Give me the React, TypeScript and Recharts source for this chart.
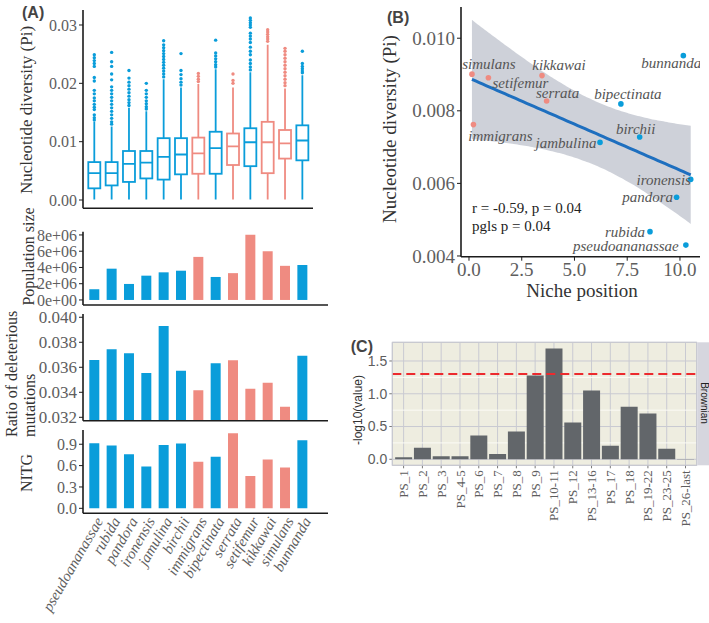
import React from "react";
import {
  BarChart,
  ComposedChart,
  Bar,
  Cell,
  XAxis,
  YAxis,
  Area,
  Line,
  Scatter,
  CartesianGrid,
  ReferenceLine,
} from "recharts";

// ---------- panel A data ----------
const species = [
  "pseudoananassae", "rubida", "pandora", "ironensis", "jamulina", "birchii", "immigrans",
  "bipectinata", "serrata", "setifemur", "kikkawai", "simulans", "bunnanda",
];
const redSpecies = ["immigrans", "serrata", "setifemur", "kikkawai", "simulans"];

const popSize = [1.32e6, 3.85e6, 1.97e6, 2.99e6, 3.4e6, 3.6e6, 5.3e6, 2.83e6, 3.3e6, 8.04e6, 6.0e6, 4.2e6, 4.3e6];
const deleterious = [0.03659, 0.03744, 0.03712, 0.03555, 0.03931, 0.03573, 0.03416, 0.03632, 0.03656, 0.03429, 0.03477, 0.03285, 0.03693];
const nitg = [0.914, 0.881, 0.758, 0.587, 0.891, 0.909, 0.654, 0.725, 1.056, 0.455, 0.687, 0.573, 0.957];

// boxplot (Pi per window), colour group as drawn in the figure
const boxGroup = ["b", "b", "b", "b", "b", "b", "r", "b", "r", "b", "r", "r", "b"];
const boxLow = [0.0001, 0.0001, 0.0001, 0.0001, 0.0001, 0.0001, 0.0001, 0.0001, 0.0001, 0.0001, 0.0001, 0.0001, 0.0001];
const boxQ1 = [0.002, 0.0025, 0.0031, 0.0037, 0.0035, 0.0044, 0.0045, 0.0045, 0.006, 0.0058, 0.0046, 0.0071, 0.0068];
const boxMedian = [0.0046, 0.0046, 0.0062, 0.0064, 0.0074, 0.0078, 0.008, 0.0089, 0.0092, 0.0099, 0.0099, 0.0097, 0.0102];
const boxQ3 = [0.0065, 0.0065, 0.0084, 0.0084, 0.0106, 0.0106, 0.0107, 0.0117, 0.0114, 0.0123, 0.0134, 0.012, 0.0128];
const boxHigh = [0.0134, 0.0126, 0.0158, 0.0152, 0.0207, 0.0193, 0.0199, 0.0224, 0.0193, 0.0219, 0.0266, 0.0191, 0.0214];
const boxOutliers = [
  [0.0249, 0.0244, 0.0239, 0.0234, 0.0229, 0.021, 0.0204, 0.0188, 0.0182, 0.0175, 0.017, 0.0164, 0.0159, 0.0155, 0.0146, 0.0141, 0.0137],
  [0.0253, 0.0237, 0.0229, 0.0216, 0.0206, 0.0194, 0.0188, 0.0182, 0.0176, 0.017, 0.0164, 0.0158, 0.0152, 0.0146, 0.014, 0.0134, 0.013],
  [0.0222, 0.0209, 0.0202, 0.0196, 0.019, 0.0184, 0.0178, 0.0172, 0.0167, 0.0162],
  [0.02, 0.0188, 0.0182, 0.0176, 0.017, 0.0165, 0.016, 0.0156],
  [0.0273, 0.0266, 0.0261, 0.0256, 0.0251, 0.0246, 0.0241, 0.0236, 0.0231, 0.0226, 0.0221, 0.0216, 0.0211],
  [0.0251, 0.0222, 0.0215, 0.0208, 0.0202, 0.0197],
  [0.0217, 0.0212, 0.0207, 0.0203],
  [0.0274, 0.0252, 0.0247, 0.0242, 0.0237, 0.0232, 0.0228],
  [0.0216, 0.0205, 0.02],
  [0.0312, 0.0308, 0.0304, 0.03, 0.0296, 0.0286, 0.0281, 0.0276, 0.027, 0.0262, 0.0255, 0.0249, 0.024, 0.0234, 0.0228, 0.0223],
  [0.0292, 0.0288, 0.0284, 0.028, 0.0276, 0.0272],
  [0.026, 0.0255, 0.0249, 0.0243, 0.0237, 0.0231, 0.0225, 0.0219, 0.0213, 0.0207, 0.0201, 0.0196],
  [0.0255, 0.0234, 0.0229, 0.0225, 0.0221, 0.0218],
];

// ---------- panel B data ----------
const nicheSpecies = [
  "simulans", "setifemur", "kikkawai", "serrata", "immigrans", "jambulina", "bipectinata",
  "birchii", "bunnanda", "ironensis", "pandora", "rubida", "pseudoananassae",
];
const nichePos = [0.14, 0.92, 3.46, 3.68, 0.21, 6.21, 7.2, 8.09, 10.16, 10.51, 9.84, 8.58, 10.28];
const nichePi = [0.00901, 0.00891, 0.00897, 0.00827, 0.00762, 0.00713, 0.00819, 0.00728, 0.00952, 0.00611, 0.00562, 0.00467, 0.0043];
// label placement relative to the dot (px)
const nicheLabelOffset = [
  [17, -10], [32, 5], [17, -11], [11, -8], [27, 11], [-34, 1], [7, -10],
  [-4, -8], [-12, 7], [-27, 1], [-29, 0], [-25, 0], [-60, 1],
];

// ---------- panel C data ----------
const psCategories = [
  "PS_1", "PS_2", "PS_3", "PS_4-5", "PS_6", "PS_7", "PS_8", "PS_9",
  "PS_10-11", "PS_12", "PS_13-16", "PS_17", "PS_18", "PS_19-22", "PS_23-25", "PS_26-last",
];
const psValues = [0.03, 0.177, 0.045, 0.045, 0.364, 0.08, 0.424, 1.278, 1.692, 0.56, 1.05, 0.207, 0.803, 0.697, 0.162, 0.005];
const threshold = 1.301; // -log10(0.05)

// ---------- styles ----------
const serif = '"Liberation Serif", "DejaVu Serif", serif';
const sans = '"Liberation Sans", Arial, sans-serif';
const BLUE = "#0A9DDA";
const RED = "#EF8B81";
const AXIS = "#1c1c1c";
const TICK = "#5e5e5e";

const barData = species.map((name, i) => ({
  name,
  pop: popSize[i],
  del: deleterious[i],
  nitg: nitg[i],
  color: redSpecies.includes(name) ? RED : BLUE,
}));

const boxData = species.map((name, i) => ({
  name,
  lo: boxLow[i],
  q1: boxQ1[i],
  med: boxMedian[i],
  q3: boxQ3[i],
  hi: boxHigh[i],
  out: boxOutliers[i],
  top: Math.max(boxHigh[i], ...boxOutliers[i]),
  color: boxGroup[i] === "r" ? RED : BLUE,
}));

// linear fit + 95% CI (as geom_smooth(method = "lm"))
const n = nichePos.length;
const mx = nichePos.reduce((a, b) => a + b, 0) / n;
const my = nichePi.reduce((a, b) => a + b, 0) / n;
let sxx = 0;
let sxy = 0;
nichePos.forEach((x, i) => {
  sxx += (x - mx) ** 2;
  sxy += (x - mx) * (nichePi[i] - my);
});
const slope = sxy / sxx;
const icpt = my - slope * mx;
const ssRes = nichePos.reduce((s, x, i) => s + (nichePi[i] - (icpt + slope * x)) ** 2, 0);
const sRes = Math.sqrt(ssRes / (n - 2));
const T975 = 2.201;
const xMin = Math.min(...nichePos);
const xMax = Math.max(...nichePos);
const fitData = Array.from({ length: 61 }, (_, k) => {
  const x = xMin + ((xMax - xMin) * k) / 60;
  const fit = icpt + slope * x;
  const se = sRes * Math.sqrt(1 / n + (x - mx) ** 2 / sxx);
  return { x, fit, band: [fit - T975 * se, fit + T975 * se] };
});
const nichePoints = nicheSpecies.map((name, i) => ({
  name,
  x: nichePos[i],
  y: nichePi[i],
  off: nicheLabelOffset[i],
  color: redSpecies.includes(name) ? RED : BLUE,
}));

const psData = psCategories.map((name, i) => ({ name, value: psValues[i] }));

// ---------- ticks & shapes ----------
const YTick = (props: any) => {
  const { x, y, payload, fmt, size = 16, family = serif } = props;
  return (
    <text x={x} y={y} textAnchor="end" dy="0.35em" fontFamily={family} fontSize={size} fill={TICK}>
      {fmt(payload.value)}
    </text>
  );
};

const XNumTick = (props: any) => {
  const { x, y, payload, fmt, size = 19 } = props;
  return (
    <text x={x} y={y} textAnchor="middle" dy="0.71em" fontFamily={serif} fontSize={size} fill={TICK}>
      {fmt(payload.value)}
    </text>
  );
};

const BoxShape = (props: any) => {
  const { x, y, width, height, payload } = props;
  const p = payload;
  const py = (v: number) => y + (height * (p.top - v)) / (p.top - p.lo);
  const cx = x + width / 2;
  const hw = 6;
  return (
    <g stroke={p.color} strokeWidth={1.8} fill="none">
      <line x1={cx} x2={cx} y1={py(p.hi)} y2={py(p.q3)} />
      <line x1={cx} x2={cx} y1={py(p.q1)} y2={py(p.lo)} />
      <rect x={cx - hw} y={py(p.q3)} width={2 * hw} height={py(p.q1) - py(p.q3)} fill="#fff" />
      <line x1={cx - hw} x2={cx + hw} y1={py(p.med)} y2={py(p.med)} />
      {p.out.map((v: number, k: number) => (
        <circle key={k} cx={cx} cy={py(v)} r={1.7} fill={p.color} stroke="none" />
      ))}
    </g>
  );
};

const SpeciesTick = (props: any) => {
  const { x, y, payload } = props;
  const ax = x + 5;
  const ay = y - 3;
  return (
    <text x={ax} y={ay} transform={`rotate(-60 ${ax} ${ay})`} textAnchor="end" dy="0.35em"
      fontFamily={serif} fontStyle="italic" fontSize={15} fill={TICK}>
      {payload.value}
    </text>
  );
};

const PsTick = (props: any) => {
  const { x, y, payload } = props;
  return (
    <text x={x} y={y} transform={`rotate(-90 ${x} ${y})`} textAnchor="end" dy="0.35em"
      fontFamily={serif} fontSize={13} fill={TICK}>
      {payload.value}
    </text>
  );
};

const NicheDot = (props: any) => {
  const { cx, cy, payload } = props;
  return (
    <g>
      <circle cx={cx} cy={cy} r={2.8} fill={payload.color} />
      <text x={cx + payload.off[0]} y={cy + payload.off[1]} textAnchor="middle" dominantBaseline="central"
        fontFamily={serif} fontStyle="italic" fontSize={15} fill="#555">
        {payload.name}
      </text>
    </g>
  );
};

// ---------- panel A bar strip ----------
type APanelProps = {
  top: number;
  height: number;
  marginTop: number;
  dataKey: string;
  domain: [number, number];
  ticks: number[];
  fmt: (v: number) => string;
  xHeight: number;
  labels?: boolean;
  fontSize?: number;
};

const APanel = ({ top, height, marginTop, dataKey, domain, ticks, fmt, xHeight, labels, fontSize = 16 }: APanelProps) => (
  <div style={{ position: "absolute", left: 0, top }}>
    <BarChart width={340} height={height} data={barData} margin={{ top: marginTop, right: 12, left: 0, bottom: 0 }} barSize={10}>
      <XAxis dataKey="name" interval={0} height={xHeight} padding={{ left: 2.3, right: 17.3 }}
        tickLine={false} axisLine={{ stroke: AXIS, strokeWidth: 1.6 }}
        tick={labels ? <SpeciesTick /> : false} />
      <YAxis width={83} type="number" domain={domain} ticks={ticks} interval={0} allowDataOverflow
        tickSize={4} tickMargin={2} tickLine={{ stroke: AXIS }} axisLine={{ stroke: AXIS, strokeWidth: 1.6 }}
        tick={<YTick fmt={fmt} size={fontSize} />} />
      <Bar dataKey={dataKey} isAnimationActive={false}>
        {barData.map((d) => (
          <Cell key={d.name} fill={d.color} />
        ))}
      </Bar>
    </BarChart>
  </div>
);

const App = () => {
  return (
    <div style={{ position: "absolute", left: 0, top: 0, width: 709, height: 623, background: "#fff", overflow: "hidden" }}>
      {/* (A) boxplot */}
      <div style={{ position: "absolute", left: 0, top: 0 }}>
        <BarChart width={340} height={218.3} data={boxData} margin={{ top: 10, right: 27, left: 0, bottom: 0 }} barSize={12}>
          <XAxis dataKey="name" interval={0} height={10} padding={{ left: 2.3, right: 2.3 }} tickLine={false} tick={false}
            axisLine={{ stroke: AXIS, strokeWidth: 1.6 }} />
          <YAxis width={83} type="number" domain={[-0.00142, 0.03257]} ticks={[0, 0.01, 0.02, 0.03]} interval={0} allowDataOverflow
            tickSize={4} tickMargin={2} tickLine={{ stroke: AXIS }} axisLine={{ stroke: AXIS, strokeWidth: 1.6 }}
            tick={<YTick fmt={(v: number) => v.toFixed(2)} size={16} />} />
          <Bar dataKey={(d: any) => [d.lo, d.top]} shape={<BoxShape />} isAnimationActive={false} />
        </BarChart>
      </div>

      <APanel top={218} height={97} marginTop={13.7} dataKey="pop" domain={[-0.62e6, 8.4e6]}
        ticks={[0, 2e6, 4e6, 6e6, 8e6]} fmt={(v) => (v === 0 ? "0e+00" : `${v / 1e6}e+06`)} xHeight={10} />
      <APanel top={302} height={128.7} marginTop={12} dataKey="del" domain={[0.03173, 0.04026]}
        ticks={[0.032, 0.034, 0.036, 0.038, 0.04]} fmt={(v) => v.toFixed(3)} xHeight={10} fontSize={17} />
      <APanel top={417} height={201.3} marginTop={13} dataKey="nitg" domain={[-0.07, 1.1]}
        ticks={[0, 0.3, 0.6, 0.9]} fmt={(v) => v.toFixed(1)} xHeight={105} labels />

      {/* (B) niche position */}
      <div style={{ position: "absolute", left: 370, top: 0 }}>
        <ComposedChart width={339} height={300} data={fitData} margin={{ top: 7, right: 9, left: 0, bottom: 3.3 }}>
          <XAxis dataKey="x" type="number" domain={[-0.379, 10.95]} ticks={[0, 2.5, 5, 7.5, 10]} interval={0} allowDataOverflow
            height={40} tickSize={4} tickMargin={2}
            tickLine={{ stroke: AXIS }} axisLine={{ stroke: AXIS, strokeWidth: 1.6 }}
            tick={<XNumTick fmt={(v: number) => v.toFixed(1)} />} />
          <YAxis type="number" width={91} domain={[0.00398, 0.01086]} ticks={[0.004, 0.006, 0.008, 0.01]} interval={0} allowDataOverflow
            tickSize={4} tickMargin={2}
            tickLine={{ stroke: AXIS }} axisLine={{ stroke: AXIS, strokeWidth: 1.6 }}
            tick={<YTick fmt={(v: number) => v.toFixed(3)} size={19} />} />
          <Area dataKey="band" type="monotone" stroke="none" fill="#C2C6D0" fillOpacity={0.8} isAnimationActive={false} />
          <Line dataKey="fit" type="linear" stroke="#1E6FBF" strokeWidth={3} dot={false} isAnimationActive={false} />
          <Scatter data={nichePoints} dataKey="y" shape={<NicheDot />} isAnimationActive={false} />
        </ComposedChart>
      </div>

      {/* (C) phylostrata */}
      <div style={{ position: "absolute", left: 360, top: 330 }}>
        <BarChart width={340} height={205.3} data={psData} margin={{ top: 12.3, right: 3.3, left: 0, bottom: 0 }} barCategoryGap="5%">
          <CartesianGrid fill="#EEEDE0" stroke="#C9CAD2" strokeWidth={1} />
          <CartesianGrid vertical={false} horizontalValues={[0.25, 0.75, 1.25]} stroke="#FBFBF6" strokeWidth={1} />
          <XAxis dataKey="name" interval={0} height={70} padding={{ left: 1.9, right: 1.8 }} axisLine={false}
            tickSize={3} tickMargin={2} tickLine={{ stroke: "#777" }} tick={<PsTick />} />
          <YAxis width={32.3} type="number" domain={[-0.0916, 1.785]} ticks={[0, 0.5, 1, 1.5]} interval={0} allowDataOverflow
            axisLine={false} tickSize={3} tickMargin={2} tickLine={{ stroke: "#777" }}
            tick={<YTick fmt={(v: number) => v.toFixed(1)} size={14} family={sans} />} />
          <Bar dataKey="value" fill="#62666A" isAnimationActive={false} />
          <ReferenceLine y={threshold} stroke="#EC2A2E" strokeWidth={2} strokeDasharray="9 5" />
        </BarChart>
      </div>

      {/* titles and annotations */}
      <svg width={709} height={623} style={{ position: "absolute", left: 0, top: 0, pointerEvents: "none" }}>
        <text x={22} y={18} fontFamily={sans} fontWeight="bold" fontSize={16} fill="#444">(A)</text>
        <text x={387} y={23} fontFamily={sans} fontWeight="bold" fontSize={16} fill="#444">(B)</text>
        <text x={373} y={352} textAnchor="end" fontFamily={sans} fontWeight="bold" fontSize={16} fill="#444">(C)</text>

        <text transform="translate(26,110) rotate(-90)" textAnchor="middle" dy="0.35em" fontFamily={serif} fontSize={17} fill="#333">
          Nucleotide diversity (Pi)
        </text>
        <text transform="translate(28,256.5) rotate(-90)" textAnchor="middle" dy="0.35em" fontFamily={serif} fontSize={16} fill="#333">
          Population size
        </text>
        <text transform="translate(11,437) rotate(-90)" dy="0.35em" fontFamily={serif} fontSize={16} fill="#333">
          Ratio of deleterious
        </text>
        <text transform="translate(29,437) rotate(-90)" dy="0.35em" fontFamily={serif} fontSize={16} fill="#333">
          mutations
        </text>
        <text transform="translate(26,473) rotate(-90)" textAnchor="middle" dy="0.35em" fontFamily={serif} fontSize={16} fill="#333">
          NITG
        </text>

        <text transform="translate(389,129) rotate(-90)" textAnchor="middle" dy="0.35em" fontFamily={serif} fontSize={19} fill="#333">
          Nucleotide diversity (Pi)
        </text>
        <text x={582} y={290} textAnchor="middle" dy="0.35em" fontFamily={serif} fontSize={19} fill="#333">
          Niche position
        </text>
        <text x={472} y={213} fontFamily={serif} fontSize={15} fill="#222">r = -0.59, p = 0.04</text>
        <text x={472} y={231} fontFamily={serif} fontSize={15} fill="#222">pgls p = 0.04</text>

        <text transform="translate(358,410) rotate(-90)" textAnchor="middle" dy="0.35em" fontFamily={sans} fontSize={12} fill="#333">
          -log10(value)
        </text>
        <rect x={392.3} y={342.3} width={304.4} height={123} fill="none" stroke="#C6C7CF" strokeWidth={1} />
        <rect x={697.3} y={342.3} width={14} height={123} fill="#D6D6DE" />
        <text transform="translate(704,403) rotate(90)" textAnchor="middle" dy="0.35em" fontFamily={sans} fontSize={10} fill="#222">
          Brownian
        </text>
      </svg>
    </div>
  );
};

export default App;
